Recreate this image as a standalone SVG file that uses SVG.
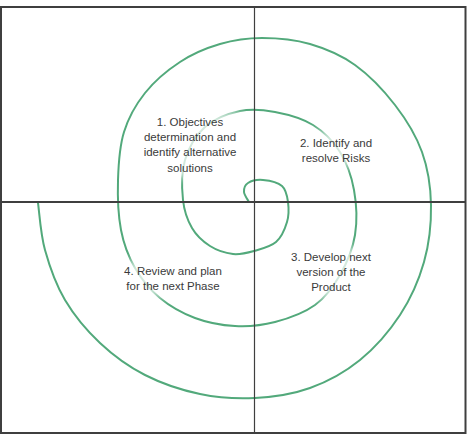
<svg xmlns="http://www.w3.org/2000/svg" width="467" height="435" viewBox="0 0 467 435">
  <style>
    .frame { fill: none; stroke: #3f3f3f; stroke-width: 2; }
    .axis-h { stroke: #3f3f3f; stroke-width: 2; }
    .axis-v { stroke: #3f3f3f; stroke-width: 1.2; }
    .spiral { fill: none; stroke: #52a97b; stroke-width: 2; stroke-linecap: round; stroke-linejoin: round; }
    .haze { fill: #ffffff; opacity: 0.75; }
    .label { font-family: "Liberation Sans", Arial, sans-serif; font-size: 11.5px; fill: #3a3a3a; text-anchor: middle; }
  </style>
  <defs>
    <filter id="soft" x="-30%" y="-30%" width="160%" height="160%">
      <feGaussianBlur stdDeviation="5"/>
    </filter>
  </defs>

  <rect width="467" height="435" fill="#ffffff"/>

  <!-- spiral path from the centre outwards -->
  <g id="connectors">
    <path class="spiral" d="M249,202 C248.2,200.3 244.2,195.2 244,192
      S244.8,185 248,183 S257.3,179.5 263,180 S277.8,182.3 282,186
      S287.2,196 288,202 S289,215.3 287,222 S281.5,237.2 276,242
      S261.2,249 254,251 S240.3,254.8 233,254 S216.8,250.3 210,246
      S196.5,235.7 192,228 S184.2,211.3 183,200 S181.3,172.2 185,160
      S195.8,135.2 205,127 S228.3,113.5 240,111 S262.8,109.7 275,112
      S302.2,118.3 313,125 S333.2,141.2 340,152 S351.5,176.2 354,190
      S357.3,220.8 355,235 S346.7,263.3 340,275 S325.8,297.2 315,305
      S288.3,318.5 275,322 S248.3,326.7 235,326 S207.5,322.7 195,318
      S170,306.3 160,298 S141.5,279.3 135,268 S123.8,244.7 121,230
      S117.5,196.3 118,180 S119.5,146.5 124,132 S135.7,104.7 145,93
      S167.5,70.2 180,62 S206.3,48 220,44 S247,38 262,38
      S294.5,39.5 310,44 S340.8,54.8 355,65 S383.8,90.5 395,105
      S416,135.3 422,152 S430.7,186.7 431,205 S429.2,243.7 424,262
      S410.7,298.7 400,315 S375,347.8 360,360 S327.5,381.7 310,388
      S273.3,397 255,398 S218.3,397.8 200,394 S161.7,383.5 145,375
      S113.3,355.5 100,343 S74.2,315.5 65,300 S49.5,266.2 45,250
      S39.2,210.8 38,203"/>
  </g>

  <!-- quadrant labels -->
  <g id="q1">
    <rect class="haze" x="140" y="112" width="100" height="66" filter="url(#soft)"/>
    <text class="label" x="190" y="126">1. Objectives</text>
    <text class="label" x="190" y="141">determination and</text>
    <text class="label" x="190" y="156">identify alternative</text>
    <text class="label" x="190" y="172">solutions</text>
  </g>
  <g id="q2">
    <rect class="haze" x="294" y="132" width="84" height="34" filter="url(#soft)"/>
    <text class="label" x="336" y="147">2. Identify and</text>
    <text class="label" x="336" y="162">resolve Risks</text>
  </g>
  <g id="q3">
    <rect class="haze" x="288" y="248" width="86" height="50" filter="url(#soft)"/>
    <text class="label" x="331" y="261">3. Develop next</text>
    <text class="label" x="331" y="276">version of the</text>
    <text class="label" x="331" y="291">Product</text>
  </g>
  <g id="q4">
    <rect class="haze" x="118" y="262" width="110" height="34" filter="url(#soft)"/>
    <text class="label" x="173" y="275">4. Review and plan</text>
    <text class="label" x="173" y="290">for the next Phase</text>
  </g>

  <!-- axes and frame -->
  <g id="axes">
    <line class="axis-h" x1="1" y1="202" x2="466" y2="202"/>
    <line class="axis-v" x1="254.5" y1="7" x2="254.5" y2="433"/>
    <rect class="frame" x="1" y="7" width="464.5" height="426"/>
  </g>
</svg>
